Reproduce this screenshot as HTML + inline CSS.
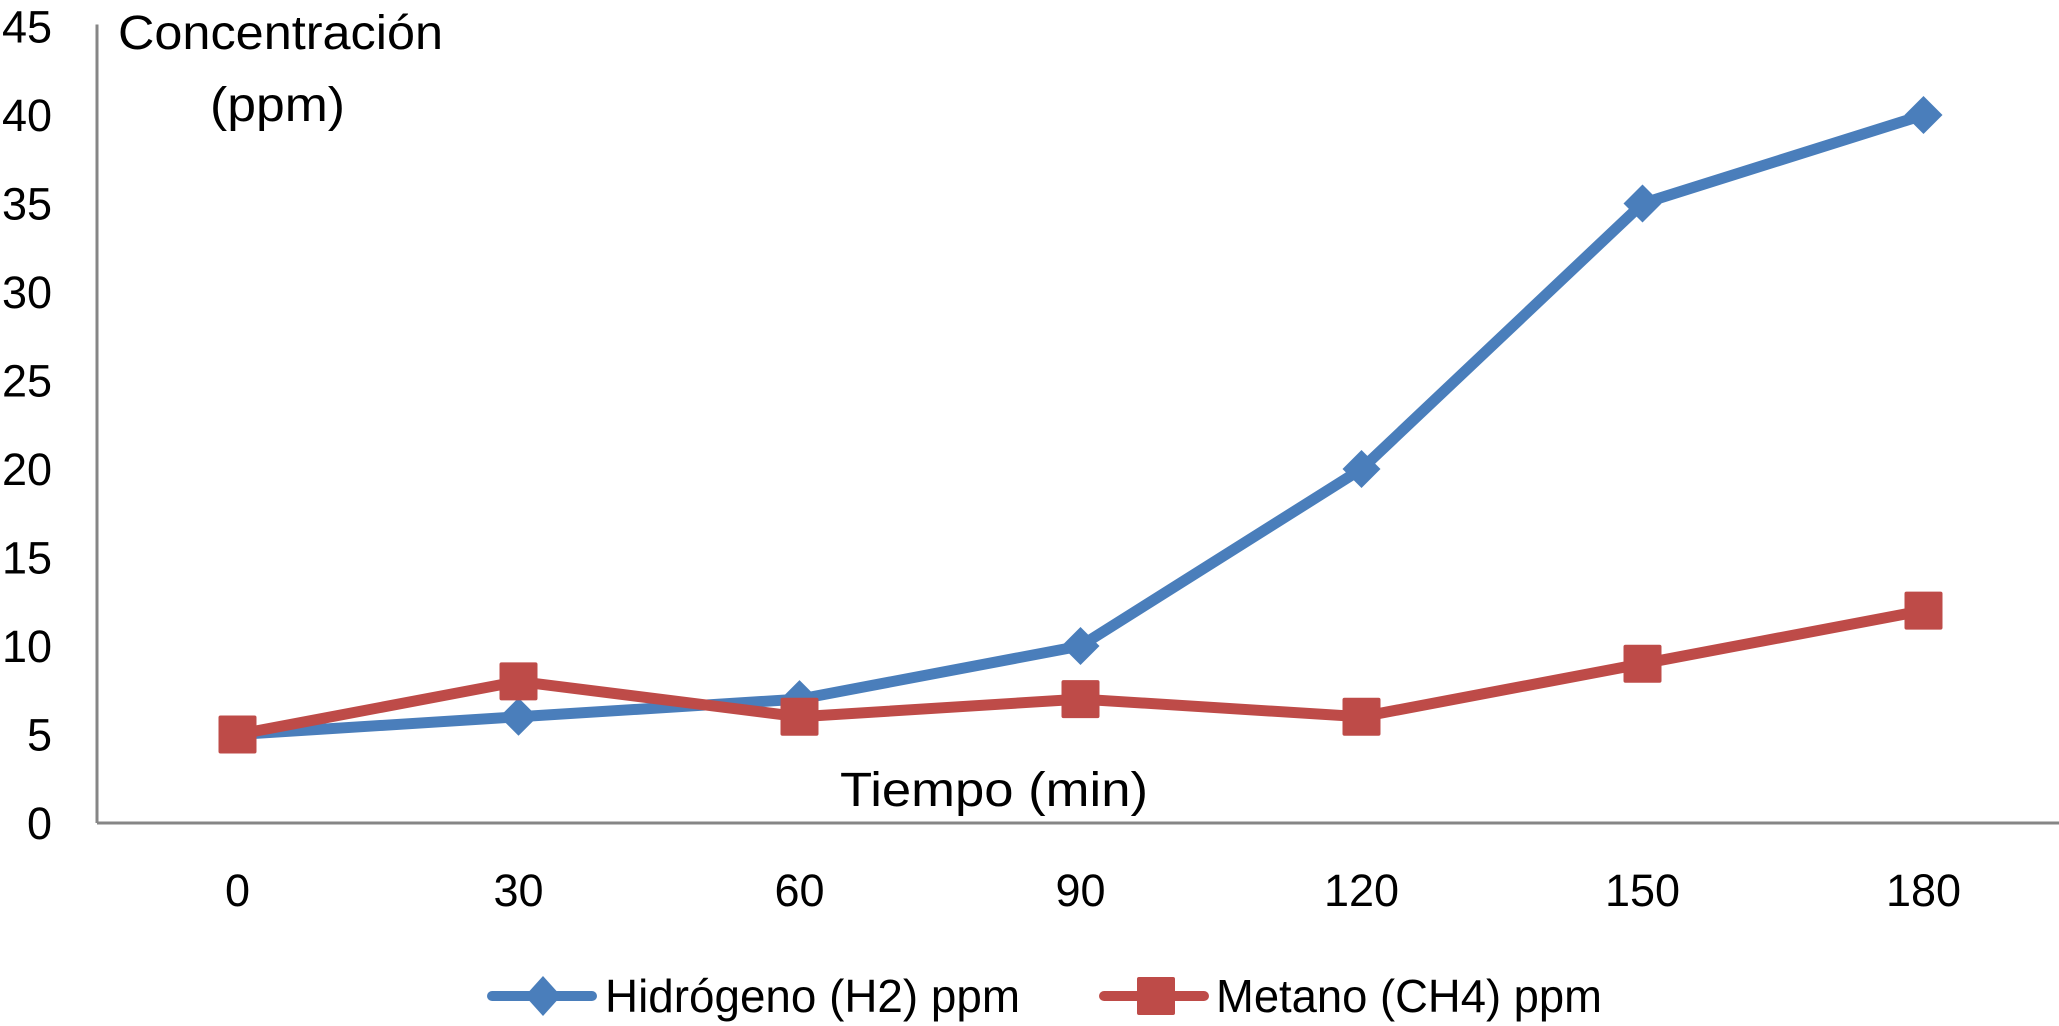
<!DOCTYPE html>
<html><head><meta charset="utf-8">
<style>
html,body{margin:0;padding:0;background:#fff;}
svg{display:block;font-family:"Liberation Sans",sans-serif;}
</style></head>
<body>
<svg id="chart" width="2059" height="1026" viewBox="0 0 2059 1026" xmlns="http://www.w3.org/2000/svg">
<g id="axes"></g>
<g id="series"></g>
<text x="118" y="49" font-size="48" fill="#000" textLength="325" lengthAdjust="spacingAndGlyphs">Concentración</text>
<text x="210" y="121" font-size="48" fill="#000" textLength="135" lengthAdjust="spacingAndGlyphs">(ppm)</text>
<text x="840" y="806" font-size="48" fill="#000" textLength="308" lengthAdjust="spacingAndGlyphs">Tiempo (min)</text>
<g>
  <g>
    <line x1="492" y1="996" x2="592" y2="996" stroke="#4A7EBB" stroke-width="10" stroke-linecap="round"/>
    <path d="M543 976 L561 996 L543 1016 L525 996 Z" fill="#4A7EBB"/>
    <text x="605" y="1012" font-size="46" fill="#000" textLength="415" lengthAdjust="spacingAndGlyphs">Hidrógeno (H2) ppm</text>
  </g>
  <g>
    <line x1="1104" y1="996" x2="1204" y2="996" stroke="#BE4B48" stroke-width="10" stroke-linecap="round"/>
    <rect x="1137" y="977" width="38" height="38" rx="2" fill="#BE4B48"/>
    <text x="1216" y="1012" font-size="46" fill="#000" textLength="386" lengthAdjust="spacingAndGlyphs">Metano (CH4) ppm</text>
  </g>
</g>
</svg>
<script>
const categories = ["0","30","60","90","120","150","180"];
const hydrogen = [5,6,7,10,20,35,40];
const methane = [5,8,6,7,6,9,12];
const yTicks = [0,5,10,15,20,25,30,35,40,45];

const NS = "http://www.w3.org/2000/svg";
const X0 = 97, BAND = 281, Y0 = 823, PXU = 17.7;
function xPos(i){ return X0 + BAND*(i+0.5); }
function yPos(v){ return Y0 - v*PXU; }
function mk(tag, attrs, parent){
  const e = document.createElementNS(NS, tag);
  for (const k in attrs) e.setAttribute(k, attrs[k]);
  parent.appendChild(e);
  return e;
}
const axes = document.getElementById('axes');
const series = document.getElementById('series');

const yAxis = mk('line',{x1:X0,y1:yPos(45)-2,x2:X0,y2:Y0,stroke:'#868686','stroke-width':3},axes);


const xAxis = mk('line',{x1:X0,y1:Y0,x2:2059,y2:Y0,stroke:'#868686','stroke-width':3},axes);



yTicks.forEach(v=>{
  const t = mk('text',{x:52,y:yPos(v)+16,'font-size':45,'text-anchor':'end',fill:'#000'},axes);
  t.textContent = v;
  
  
});
categories.forEach((c,i)=>{
  const t = mk('text',{x:xPos(i),y:906,'font-size':45,'text-anchor':'middle',fill:'#000'},axes);
  t.textContent = c;
  
  
});

function drawSeries(vals, color, shape, name){
  const pts = vals.map((v,i)=>xPos(i)+','+yPos(v)).join(' ');
  const pl = mk('polyline',{points:pts,fill:'none',stroke:color,'stroke-width':11,'stroke-linejoin':'round','stroke-linecap':'round'},series);
  
  
  vals.forEach((v,i)=>{
    const cx = xPos(i), cy = yPos(v);
    let m;
    if (shape==='diamond'){
      m = mk('path',{d:`M${cx} ${cy-19} L${cx+19} ${cy} L${cx} ${cy+19} L${cx-19} ${cy} Z`,fill:color},series);
    } else {
      m = mk('rect',{x:cx-19,y:cy-19,width:38,height:38,rx:2,fill:color},series);
    }
    
    
  });
}
drawSeries(hydrogen,'#4A7EBB','diamond','hidrogeno');
drawSeries(methane,'#BE4B48','square','metano');
</script>
</body></html>
